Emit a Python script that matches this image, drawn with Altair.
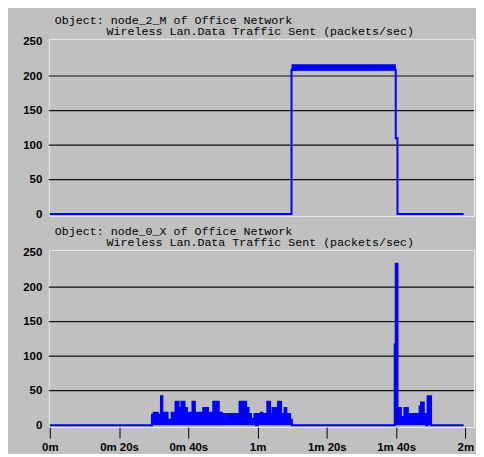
import altair as alt
import pandas as pd

# ---------------- data ----------------
titles_top = ["Object: node_2_M of Office Network",
              "Wireless Lan.Data Traffic Sent (packets/sec)"]
titles_bottom = ["Object: node_0_X of Office Network",
                 "Wireless Lan.Data Traffic Sent (packets/sec)"]

y_ticks = [0, 50, 100, 150, 200, 250]
grid_values = [50, 100, 150, 200]
x_ticks = [0, 20, 40, 60, 80, 100, 120]
x_tick_labels = ["0m", "0m 20s", "0m 40s", "1m", "1m 20s", "1m 40s", "2m"]

# node_2_M (step series, seconds / packets per sec)
top_t = [0, 69.8, 99.9, 100.4, 119.5]
top_v = [0, 209, 110, 0, 0]
# rapidly oscillating band while sending
band_t = [69.8, 99.95]
band_lo = [208, 208]
band_hi = [217, 217]

# node_0_X (step series)
bot_t = [0, 29.5, 30.0, 31.2, 32.1, 32.5, 34.0, 35.2, 36.3, 37.2, 38.0,
         38.9, 39.6, 40.1, 40.6, 41.2, 41.9, 44.3, 45.7, 47.2, 48.8, 49.7,
         50.4, 51.0, 54.8, 56.7, 57.4, 58.1, 59.1, 59.5, 60.0, 60.9,
         61.4, 62.8, 63.6, 64.3, 64.7, 65.2, 65.9, 66.8, 67.8, 68.3,
         69.4, 69.9, 99.6, 99.9, 100.4, 100.6, 101.4, 102.4, 103.4,
         106.8, 107.2, 108.0, 108.7, 109.1, 110.1, 119.5]
bot_v = [0, 15, 18, 15, 42, 18, 8, 18, 34, 25, 34,
         25, 18, 7, 18, 34, 18, 25, 18, 34, 18, 16,
         7, 16, 34, 25, 16, 9, 16, 0, 16, 18,
         16, 34, 16, 25, 7, 25, 34, 16, 25, 16,
         8, 0, 117, 234, 10, 25, 12, 25, 16,
         27, 33, 16, 0, 42, 0, 0]

# ---------------- styling ----------------
BG = "#c0c0c0"
BLUE = "#0000ff"
FONT = "Liberation Mono"
AXFONT = "Liberation Sans"
W, H = 427, 178
X_DOMAIN = [-0.28, 122.5]
Y_DOMAIN = [-2.9, 253.9]

label_expr = " : ".join(
    f"datum.value == {v} ? '{l}'" for v, l in zip(x_ticks, x_tick_labels)
) + " : ''"

y_axis = alt.Axis(values=y_ticks, grid=False, ticks=False, domain=False,
                  labelFont=AXFONT, labelFontSize=11.5, labelFontWeight="bold",
                  labelColor="#000", labelPadding=7, title=None)
x_axis_bottom = alt.Axis(values=x_ticks, grid=False, ticks=True, tickSize=11,
                         tickColor="#000", tickWidth=1, domain=False,
                         labelFont=AXFONT, labelFontSize=11.5, labelFontWeight="bold",
                         labelColor="#000", labelPadding=3, labelExpr=label_expr,
                         labelFlush=False, title=None)

xs = alt.Scale(domain=X_DOMAIN, nice=False, zero=False)
ys = alt.Scale(domain=Y_DOMAIN, nice=False, zero=False)


def panel(titles, layers):
    grid = alt.Chart(pd.DataFrame({"g": grid_values})).mark_rule(
        color="#101010", strokeWidth=1.2
    ).encode(y=alt.Y("g:Q", scale=ys, axis=y_axis))
    t1 = alt.Chart(pd.DataFrame({"s": [titles[0]]})).mark_text(
        align="left", baseline="middle", font=FONT, fontSize=11.7, color="#000"
    ).encode(text="s:N", x=alt.value(6), y=alt.value(-19))
    t2 = alt.Chart(pd.DataFrame({"s": [titles[1]]})).mark_text(
        align="left", baseline="middle", font=FONT, fontSize=11.7, color="#000"
    ).encode(text="s:N", x=alt.value(58), y=alt.value(-7.5))
    return alt.layer(grid, *layers, t1, t2).properties(width=W, height=H)


# top panel
df_top = pd.DataFrame({"t": top_t, "v": top_v})
df_band = pd.DataFrame({"t": band_t, "lo": band_lo, "hi": band_hi})
top_line = alt.Chart(df_top).mark_line(
    color=BLUE, strokeWidth=2, interpolate="step-after"
).encode(x=alt.X("t:Q", scale=xs, axis=None), y=alt.Y("v:Q", scale=ys, axis=y_axis))
top_band = alt.Chart(df_band).mark_area(color=BLUE, opacity=1).encode(
    x=alt.X("t:Q", scale=xs, axis=None),
    y=alt.Y("lo:Q", scale=ys, axis=y_axis), y2="hi:Q")
top_panel = panel(titles_top, [top_line, top_band])

# bottom panel
df_bot = pd.DataFrame({"t": bot_t, "v": bot_v})
bot_area = alt.Chart(df_bot).mark_area(
    color=BLUE, opacity=1, interpolate="step-after"
).encode(x=alt.X("t:Q", scale=xs, axis=x_axis_bottom),
         y=alt.Y("v:Q", scale=ys, axis=y_axis), y2=alt.datum(0))
bot_line = alt.Chart(df_bot).mark_line(
    color=BLUE, strokeWidth=2, interpolate="step-after"
).encode(x=alt.X("t:Q", scale=xs, axis=x_axis_bottom),
         y=alt.Y("v:Q", scale=ys, axis=y_axis))
bottom_panel = panel(titles_bottom, [bot_area, bot_line])

chart = alt.vconcat(top_panel, bottom_panel, spacing=5).properties(
    background=BG,
    padding={"left": 14, "top": 5, "right": 0, "bottom": 0},
).configure_view(stroke="#ececec", strokeWidth=1)

chart.save("out.html", embed_options={"renderer": "svg", "actions": False})
